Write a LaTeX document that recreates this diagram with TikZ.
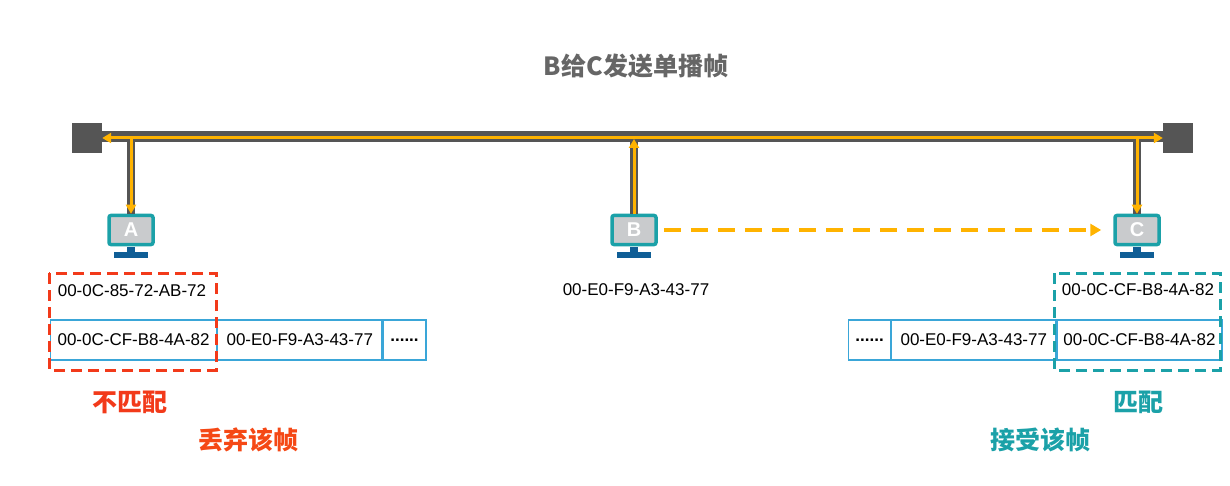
\documentclass[tikz,border=0pt]{standalone}
\usepackage{fontspec}
\setmainfont{Liberation Sans}
\newfontfamily\cjk{Noto Sans CJK SC}
\usetikzlibrary{arrows.meta}
\definecolor{busgray}{HTML}{555555}
\definecolor{ylw}{HTML}{FFB300}
\definecolor{tealc}{HTML}{1BA1A8}
\definecolor{scr}{HTML}{C9CBCD}
\definecolor{navy}{HTML}{0F5E96}
\definecolor{redc}{HTML}{F23A1A}
\definecolor{cellc}{HTML}{3AA6D8}
\begin{document}
\begin{tikzpicture}[x=1pt,y=-1pt,
  mac/.style={font=\fontsize{17}{19}\selectfont,inner sep=0pt},
  cell/.style={draw=cellc,line width=1.2pt,minimum height=40pt,inner sep=0pt,font=\fontsize{17}{19}\selectfont,anchor=west},
  lbl/.style={font=\cjk\bfseries\fontsize{25}{27}\selectfont},
  ya/.style={ylw,line width=3pt,-{Triangle[length=9pt,width=10pt]}},
  drop/.style={busgray,line width=8pt}]
\useasboundingbox (0,0) rectangle (1230,486);
\node[font=\cjk\bfseries\fontsize{25}{27}\selectfont,text=busgray!90] (title) at (636,66) {B给C发送单播帧};
% bus
\draw[busgray,line width=11pt] (90,137) -- (1170,137);
\node[fill=busgray,minimum width=30pt,minimum height=30pt,inner sep=0pt] (L) at (87,138) {};
\node[fill=busgray,minimum width=30pt,minimum height=30pt,inner sep=0pt] (R) at (1178,138) {};
\coordinate (ja) at (131,138); \coordinate (jb) at (634,138); \coordinate (jc) at (1137,138);
% computers
\foreach \n/\x in {A/131,B/634,C/1137}{
  \node[draw=tealc,line width=3.5pt,fill=scr,rounded corners=2pt,minimum width=44pt,minimum height=29pt,inner sep=0pt,
    font=\bfseries\fontsize{20}{20}\selectfont,text=white] (pc\n) at (\x,230) {\n};
  \fill[navy] (\x-4,247) rectangle (\x+4,252);
  \fill[navy] (\x-17,252) rectangle (\x+17,258);
}
\draw[drop] (ja) -- (pcA.north);
\draw[drop] (jb) -- (pcB.north);
\draw[drop] (jc) -- (pcC.north);
\draw[ya] (pcB.north) -- (634,139);
\draw[ya] (131,139) -- (pcA.north);
\draw[ya] (1137,139) -- (pcC.north);
\draw[ylw,line width=3pt,{Triangle[length=9pt,width=10pt]}-{Triangle[length=9pt,width=10pt]}] (L.east) -- (R.west);
\draw[ylw,line width=4pt,dash pattern=on 17pt off 10pt,-{Triangle[length=11pt,width=12pt]}] (pcB.east)++(6,0) -- ([xshift=-12pt]pcC.west);
% MAC labels
\node[mac] (ma) at (132,291) {00-0C-85-72-AB-72};
\node[mac] (mb) at (636,290) {00-E0-F9-A3-43-77};
\node[mac] (mc) at (1138,290) {00-0C-CF-B8-4A-82};
% frames
\node[cell,minimum width=166pt] (a1) at (50,340) {00-0C-CF-B8-4A-82};
\node[cell,minimum width=164pt] (a2) at (a1.east) {00-E0-F9-A3-43-77};
\node[cell,minimum width=43pt] (a3) at (a2.east) {\textbf{......}};
\node[cell,minimum width=42pt] (c3) at (848,340) {\textbf{......}};
\node[cell,minimum width=164pt] (c2) at (c3.east) {00-E0-F9-A3-43-77};
\node[cell,minimum width=165pt] (c1) at (c2.east) {00-0C-CF-B8-4A-82};
\draw[redc,line width=3pt,dash pattern=on 11pt off 6pt] (49,273) rectangle (216,370);
\draw[tealc,line width=3pt,dash pattern=on 11pt off 6pt] (1054,273) rectangle (1220,370);
\node[lbl,text=redc] (nm) at (130,402) {不匹配};
\node[lbl,text=redc!80!orange] (dq) at (248,440) {丢弃该帧};
\node[lbl,text=tealc] (pm) at (1138,402) {匹配};
\node[lbl,text=tealc] (js) at (1040,440) {接受该帧};
\end{tikzpicture}
\end{document}
